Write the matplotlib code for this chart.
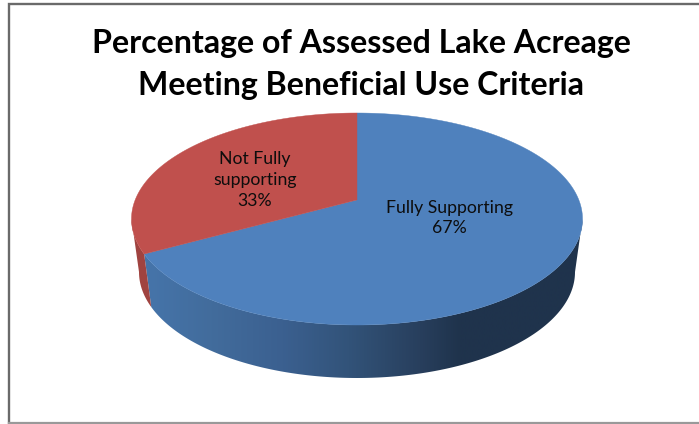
import numpy as np
import matplotlib
matplotlib.use("Agg")
import matplotlib.pyplot as plt
from matplotlib.patches import Polygon
from matplotlib.colors import LinearSegmentedColormap

title_lines = ["Percentage of Assessed Lake Acreage", "Meeting Beneficial Use Criteria"]
categories = ["Fully Supporting", "Not Fully\nsupporting"]
values = [67, 33]

BLUE, RED = "#4f81bd", "#c0504d"
FONT = "Lato"

fig = plt.figure(figsize=(6.99, 4.24), dpi=100, facecolor="white")
ax = fig.add_axes([0, 0, 1, 1])

# 3D pie geometry, pixel scale
CX, CY, A, B = 357.0, 219.0, 225.5, 106.0      # top face ellipse
CY2, A2, B2 = 272.0, 218.0, 106.0              # bottom rim ellipse
K = 0.18                                        # perspective strength


def project(frac):
    """Pie fraction clockwise from 12 o'clock -> normalised position on the tilted face."""
    t = 2 * np.pi * np.asarray(frac)
    u, v = np.sin(t), np.cos(t)
    w = 1 + K * v
    return np.sqrt(1 - K ** 2) * u / w, (v + K) / w


def top_xy(frac):
    x, y = project(frac)
    return CX + A * x, CY - B * y


def bottom_xy(frac):
    x, y = project(frac)
    return CX + A2 * x, CY2 - B2 * y


def face_fraction(phi_deg):
    """Inverse of project: ellipse angle (clockwise from top) -> pie fraction."""
    p = np.radians(phi_deg)
    x, y = np.sin(p), np.cos(p)
    v = (y - K) / (1 - K * y)
    u = x * (1 + K * v) / np.sqrt(1 - K ** 2)
    return (np.arctan2(u, v) / (2 * np.pi)) % 1.0


total = sum(values)
split = values[0] / total

# --- side walls (gradient clipped to the rim) ---
right_edge = face_fraction(90)
left_edge = face_fraction(270)


def wall_polygon(f0, f1):
    fr = np.linspace(f0, f1, 200)
    tx, ty = top_xy(fr)
    bx, by = bottom_xy(fr[::-1])
    return np.column_stack([np.r_[tx, bx], np.r_[ty, by]])


blue_cmap = LinearSegmentedColormap.from_list(
    "wall",
    [(0.00, "#4675ab"), (0.16, "#426c9c"), (0.32, "#3b6090"), (0.47, "#325379"),
     (0.63, "#283f5d"), (0.72, "#1f334c"), (1.00, "#1f334c")],
)
grad = np.linspace(0, 1, 512).reshape(1, -1)
im = ax.imshow(grad, cmap=blue_cmap, extent=[140, 585, 0, 424], aspect="auto", zorder=1,
               interpolation="bilinear")
poly = Polygon(wall_polygon(right_edge, split), closed=True, transform=ax.transData,
               facecolor="none", edgecolor="none")
ax.add_patch(poly)
im.set_clip_path(poly)

ax.add_patch(Polygon(wall_polygon(split, left_edge), closed=True, facecolor="#a04340",
                     edgecolor="none", zorder=1))

# --- top face slices ---
apex_x, apex_y = CX, CY - B * K
start = 0.0
for val, col in zip(values, [BLUE, RED]):
    fr = np.linspace(start, start + val / total, 400)
    x, y = top_xy(fr)
    ax.fill(np.r_[apex_x, x], np.r_[apex_y, y], color=col, lw=0.3, zorder=2)
    start += val / total

# --- labels ---
label_pos = [(449, 218), (255, 180)]
for cat, val, (lx, ly) in zip(categories, values, label_pos):
    ax.text(lx, ly, f"{cat}\n{val}%", ha="center", va="center", fontsize=12.7,
            family=FONT, color="#0d0d0d", linespacing=1.37, zorder=3)

# --- title ---
for line, yy in zip(title_lines, [43, 86]):
    ax.text(361, yy, line, ha="center", va="center", fontsize=23.1, fontweight="bold",
            family=FONT, color="black", zorder=3)

# --- chart frame (open on the right) ---
ax.plot([699, 8.5, 8.5], [4, 4, 422.5], color="#6a6a6a", lw=1.7, zorder=4,
        solid_joinstyle="miter")
ax.plot([8.5, 699], [422.8, 422.8], color="#999999", lw=1.6, zorder=4)

ax.set_xlim(0, 699)
ax.set_ylim(424, 0)
ax.axis("off")
fig.savefig("out.png", dpi=100, facecolor="white")
